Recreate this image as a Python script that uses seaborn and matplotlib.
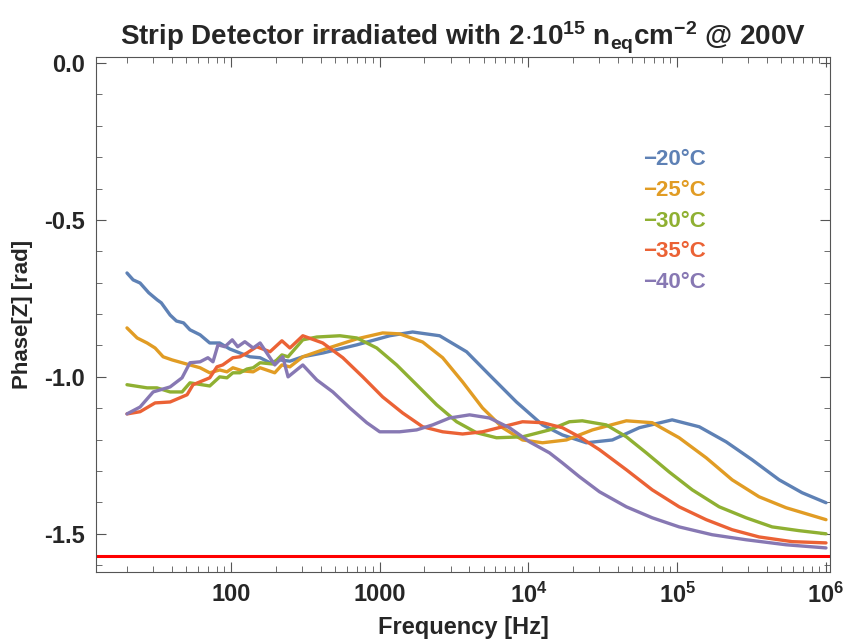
import numpy as np
import pandas as pd
import seaborn as sbn
import matplotlib
matplotlib.use('Agg')
import matplotlib.pyplot as plt
from matplotlib.ticker import LogLocator, MultipleLocator, FixedLocator, NullFormatter

# temperatures and colours (Mathematica default palette)
temps = ["\u221220\u00b0C", "\u221225\u00b0C", "\u221230\u00b0C", "\u221235\u00b0C", "\u221240\u00b0C"]
colors = ["#5E81B5", "#E19C24", "#8FB032", "#EB6235", "#8778B3"]

# values: frequency [Hz] and phase [rad]
freq_20 = [20, 22, 24.5, 28, 32, 34, 39, 43, 48, 53, 62, 72, 84, 98, 115, 134, 157, 183, 213, 249,
           304, 414, 701, 1167, 1663, 2529, 3837, 5470, 8299, 12420, 16900, 24490, 36640, 55590,
           92470, 140600, 213300, 318400, 484200, 690200, 1000000]
phase_20 = [-0.669, -0.691, -0.701, -0.732, -0.755, -0.764, -0.803, -0.822, -0.828, -0.850,
            -0.866, -0.892, -0.892, -0.911, -0.924, -0.936, -0.939, -0.955, -0.946, -0.950,
            -0.936, -0.924, -0.898, -0.869, -0.857, -0.869, -0.920, -0.994, -1.080, -1.153,
            -1.185, -1.210, -1.201, -1.162, -1.137, -1.159, -1.207, -1.264, -1.328, -1.369, -1.401]

freq_25 = [20, 23.4, 27.3, 30.9, 35, 40.2, 46.9, 53, 62, 72, 84, 94, 103, 120, 141, 157, 197, 220, 249,
           304, 414, 701, 1047, 1361, 1945, 2649, 3606, 4909, 6699, 9120, 12420, 17990, 26920,
           45500, 67920, 103000, 156700, 233900, 354800, 539500, 1000000]
phase_25 = [-0.844, -0.876, -0.892, -0.908, -0.936, -0.946, -0.955, -0.962, -0.971, -0.987,
            -0.978, -0.984, -0.971, -0.981, -0.984, -0.971, -0.987, -0.962, -0.968,
            -0.936, -0.914, -0.879, -0.860, -0.863, -0.889, -0.939, -1.016, -1.099, -1.162,
            -1.201, -1.210, -1.201, -1.169, -1.140, -1.146, -1.194, -1.258, -1.328, -1.382,
            -1.417, -1.455]

freq_30 = [20, 27.3, 31.8, 39, 46.9, 53, 72, 84, 94, 103, 115, 128, 141, 157, 191, 220, 242,
           304, 378, 540, 701, 955, 1300, 1770, 2415, 3289, 4477, 6095, 9120, 13840, 18840, 23010,
           33340, 45500, 61940, 88310, 126200, 191400, 290400, 434500, 659200, 1000000]
phase_30 = [-1.025, -1.035, -1.035, -1.048, -1.048, -1.019, -1.029, -1.000, -1.003, -0.987,
            -0.987, -0.975, -0.971, -0.955, -0.959, -0.930, -0.936,
            -0.882, -0.873, -0.869, -0.876, -0.908, -0.962, -1.025, -1.089, -1.143, -1.178,
            -1.194, -1.191, -1.169, -1.143, -1.140, -1.153, -1.191, -1.242, -1.303, -1.360,
            -1.414, -1.449, -1.478, -1.490, -1.500]

freq_35 = [20, 24.5, 30.9, 39, 50.7, 55.6, 72, 80.5, 88, 103, 115, 128, 149, 183, 220, 249,
           304, 414, 565, 769, 1047, 1426, 1945, 2649, 3606, 4909, 6699, 9120, 12420, 16900,
           21980, 29990, 45500, 67920, 103000, 156700, 233900, 354800, 591600, 1000000]
phase_35 = [-1.118, -1.111, -1.083, -1.080, -1.057, -1.025, -1.003, -0.968, -0.962, -0.939,
            -0.936, -0.924, -0.904, -0.920, -0.885, -0.908,
            -0.869, -0.892, -0.939, -1.000, -1.064, -1.115, -1.159, -1.175, -1.182, -1.175,
            -1.159, -1.143, -1.146, -1.162, -1.191, -1.232, -1.296, -1.360, -1.414, -1.455,
            -1.487, -1.510, -1.525, -1.529]

freq_40 = [20, 24.5, 30, 39, 46.9, 53, 62, 70, 75.7, 81.8, 91, 102, 111, 124, 141, 157, 197, 223, 242,
           304, 378, 484, 630, 818, 1000, 1361, 1770, 2270, 2951, 4018, 5470, 7447, 10160, 13840,
           16900, 21980, 29990, 45500, 67920, 103000, 171800, 290400, 539500, 1000000]
phase_40 = [-1.118, -1.096, -1.048, -1.032, -1.003, -0.955, -0.952, -0.939, -0.952, -0.898,
            -0.904, -0.882, -0.904, -0.888, -0.908, -0.892, -0.962, -0.936, -1.000,
            -0.962, -1.010, -1.048, -1.099, -1.146, -1.175, -1.175, -1.169, -1.153, -1.131,
            -1.121, -1.131, -1.162, -1.207, -1.242, -1.274, -1.318, -1.366, -1.414, -1.449,
            -1.478, -1.503, -1.519, -1.535, -1.545]

freqs = [freq_20, freq_25, freq_30, freq_35, freq_40]
phases = [phase_20, phase_25, phase_30, phase_35, phase_40]

frames = []
for t, f, p in zip(temps, freqs, phases):
    frames.append(pd.DataFrame({"freq": f, "phase": p, "temp": t}))
df = pd.concat(frames, ignore_index=True)

sbn.set_style("ticks")
plt.rcParams['font.family'] = ['Liberation Sans', 'DejaVu Sans']
plt.rcParams['font.weight'] = 'bold'
plt.rcParams['mathtext.fontset'] = 'custom'
plt.rcParams['mathtext.rm'] = 'Liberation Sans:bold'
plt.rcParams['mathtext.it'] = 'Liberation Sans:bold'
plt.rcParams['mathtext.bf'] = 'Liberation Sans:bold'

fig = plt.figure(figsize=(8.43, 6.41), dpi=100)
ax = fig.add_axes([0.114, 0.108, 0.871, 0.803])

sbn.lineplot(data=df, x="freq", y="phase", hue="temp", palette=colors, hue_order=temps,
             sort=False, estimator=None, legend=False, linewidth=2.4, ax=ax)
ax.axhline(-np.pi / 2, color="red", linewidth=2.2)

ax.set_xscale("log")
ax.set_xlim(12.4, 1.07e6)
ax.set_ylim(-1.621, 0.019)

ax.xaxis.set_major_locator(FixedLocator([100, 1000, 1e4, 1e5, 1e6]))
ax.set_xticklabels(["100", "1000", "$10^{4}$", "$10^{5}$", "$10^{6}$"])
ax.xaxis.set_minor_locator(LogLocator(base=10, subs=np.arange(2, 10)))
ax.xaxis.set_minor_formatter(NullFormatter())
ax.yaxis.set_major_locator(FixedLocator([0.0, -0.5, -1.0, -1.5]))
ax.set_yticklabels(["0.0", "-0.5", "-1.0", "-1.5"])
ax.yaxis.set_minor_locator(MultipleLocator(0.1))

ax.tick_params(which="both", direction="in", top=True, right=True, color="#555555")
ax.tick_params(which="major", length=7, width=0.8, labelsize=17, pad=8)
ax.tick_params(which="minor", length=4, width=0.6)
for s in ax.spines.values():
    s.set_color("#555555")
    s.set_linewidth(0.8)

ax.set_xlabel("Frequency [Hz]", fontsize=17, fontweight="bold", labelpad=6)
ax.set_ylabel("Phase[Z] [rad]", fontsize=16, fontweight="bold", labelpad=8)
ax.set_title("Strip Detector irradiated with 2$\\cdot$10$^{15}$ n$_{eq}$cm$^{-2}$ @ 200V",
             fontsize=20, fontweight="bold", pad=8)

# legend as coloured text labels
for i, (t, c) in enumerate(zip(temps, colors)):
    ax.text(0.745, 0.8 - i * 0.0595, t, color=c, fontsize=16, fontweight="bold",
            transform=ax.transAxes, va="center", ha="left")

fig.savefig("out.png", dpi=100)
